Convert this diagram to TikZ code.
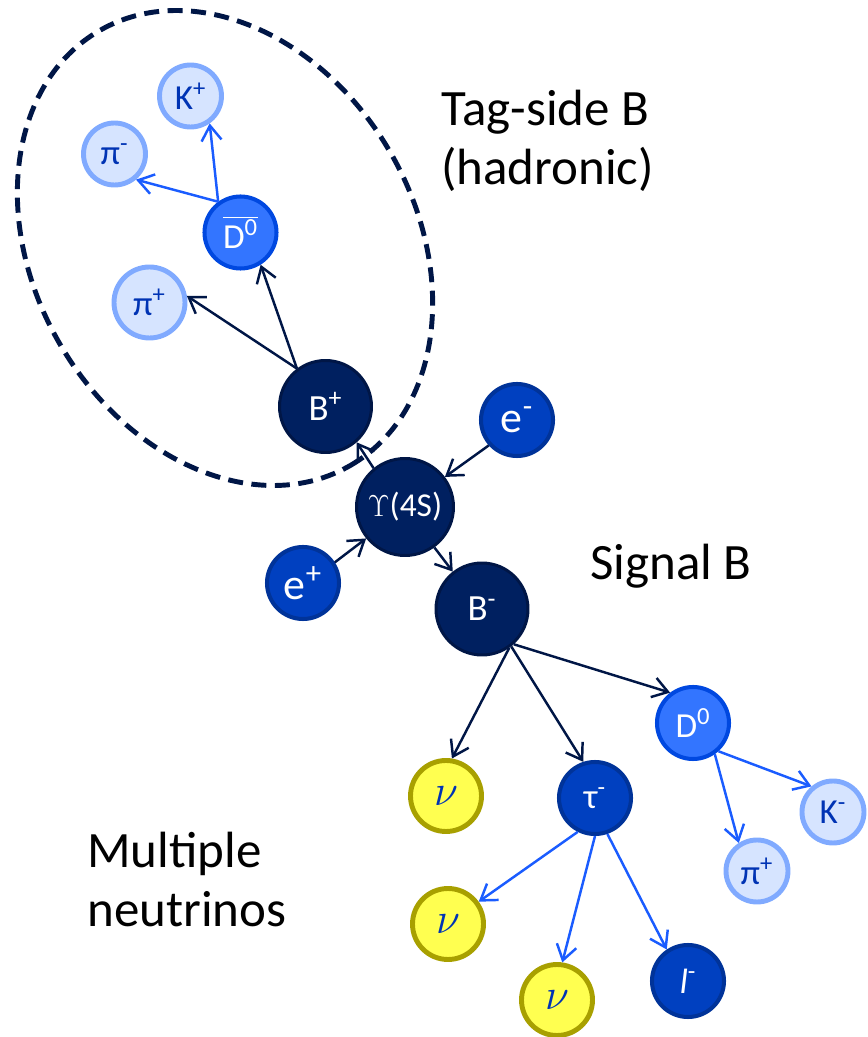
\documentclass[tikz,border=0pt]{standalone}
\usepackage{fontspec}
\setmainfont{Carlito}
\usepackage{tikz}
\usetikzlibrary{arrows.meta}

\definecolor{navy}{RGB}{0,32,96}
\definecolor{navyline}{RGB}{0,22,70}
\definecolor{midblue}{RGB}{0,64,192}
\definecolor{midline}{RGB}{0,51,153}
\definecolor{dblue}{RGB}{51,117,255}
\definecolor{dline}{RGB}{0,72,224}
\definecolor{lightfill}{RGB}{214,228,255}
\definecolor{lightline}{RGB}{128,170,255}
\definecolor{lighttext}{RGB}{0,51,180}
\definecolor{nufill}{RGB}{255,255,80}
\definecolor{nuline}{RGB}{168,160,0}
\definecolor{arrblue}{RGB}{26,92,255}

\begin{document}
\begin{tikzpicture}[
    part/.style={circle, inner sep=0pt, text=white, font=\fontsize{20}{24}\selectfont},
    heavy/.style={part, fill=navy, draw=navyline, line width=1.7pt, minimum size=1.84cm, font=\fontsize{21}{25}\selectfont},
    lepton/.style={part, fill=midblue, draw=midline, line width=2.3pt, minimum size=1.44cm},
    charm/.style={part, fill=dblue, draw=dline, line width=2.3pt, minimum size=1.44cm},
    light/.style={part, fill=lightfill, draw=lightline, line width=2.8pt, minimum size=1.24cm, text=lighttext},
    neutrino/.style={part, fill=nufill, draw=nuline, line width=2.8pt, minimum size=1.42cm, text=lighttext, font=\fontsize{26}{30}\selectfont},
    decay/.style={-{Straight Barb[length=3mm,width=4mm]}, line width=1.4pt, navyline},
    subdecay/.style={decay, arrblue},
    sidetext/.style={anchor=base west, align=left, inner sep=0pt, font=\fontsize{29}{34}\selectfont}
]
    \useasboundingbox (0,0) rectangle (17.36,20.74);

    % Tag side
    \node[light] (Kp) at (3.81,18.82) {K\textsuperscript{+}};
    \node[light] (pim) at (2.29,17.66) {π\textsuperscript{-}};
    \node[charm] (Dbar) at (4.81,16.09) {$\overline{\mbox{D\textsuperscript{0}}}$};
    \node[light, minimum size=1.42cm] (pip) at (2.99,14.69) {π\textsuperscript{+}};
    \node[heavy] (Bp) at (6.51,12.61) {B\textsuperscript{+}};

    % Beams
    \node[lepton, font=\fontsize{25}{30}\selectfont] (em) at (10.34,12.34) {e\textsuperscript{-}};
    \node[heavy, minimum size=1.94cm, font=\fontsize{19}{23}\selectfont] (Ups) at (8.10,10.60) {$\Upsilon$(4S)};
    \node[lepton, font=\fontsize{25}{30}\selectfont] (ep) at (6.06,9.08) {e\textsuperscript{+}};

    % Signal side
    \node[heavy] (Bm) at (9.64,8.56) {B\textsuperscript{-}};
    \node[charm] (Dz) at (13.86,6.28) {D\textsuperscript{0}};
    \node[neutrino] (nuA) at (8.92,4.82) {$\nu$};
    \node[lepton] (tau) at (11.90,4.78) {τ\textsuperscript{-}};
    \node[light] (Km) at (16.66,4.50) {K\textsuperscript{-}};
    \node[light] (pis) at (15.14,3.32) {π\textsuperscript{+}};
    \node[neutrino] (nuB) at (8.96,2.26) {$\nu$};
    \node[neutrino] (nuC) at (11.14,0.74) {$\nu$};
    \node[lepton] (lep) at (13.76,1.12) {\textit{l}\textsuperscript{-}};

    % Decays
    \draw[decay] (Bp.127) -- (pip.10);
    \draw[decay] (Bp.127) -- (Dbar.-58);
    \draw[subdecay] (Dbar.126) -- (Kp.-55);
    \draw[subdecay] (Dbar.126) -- (pim.-50);
    \draw[decay] (Ups.129) -- (Bp.-49);
    \draw[decay] (em.222) -- (Ups.37);
    \draw[decay] (ep.33) -- (Ups.219);
    \draw[decay] (Ups.-54) -- (Bm.128);
    \draw[decay] (Bm.-55) -- (nuA.81);
    \draw[decay] (Bm.-52) -- (tau.108);
    \draw[decay] (Bm.-48) -- (Dz.127);
    \draw[subdecay] (Dz.-55) -- (pis.123);
    \draw[subdecay] (Dz.-48) -- (Km.130);
    \draw[subdecay] (tau.243) -- (nuB.36);
    \draw[subdecay] (tau.-90) -- (nuC.82);
    \draw[subdecay] (tau.-71) -- (lep.124);

    % Tag-side region
    \draw[navyline, line width=2.8pt, dash pattern=on 0.3cm off 0.17cm, rotate around={-60:(4.50,15.78)}]
        (4.50,15.78) ellipse (5.02cm and 3.82cm);

    % Add labels
    \node[sidetext] (tagtext) at (8.82,17.04) {Tag-side B\\(hadronic)};
    \node[sidetext] (sigtext) at (11.80,9.14) {Signal B};
    \node[sidetext] (multext) at (1.74,2.20) {Multiple\\neutrinos};
\end{tikzpicture}
\end{document}
